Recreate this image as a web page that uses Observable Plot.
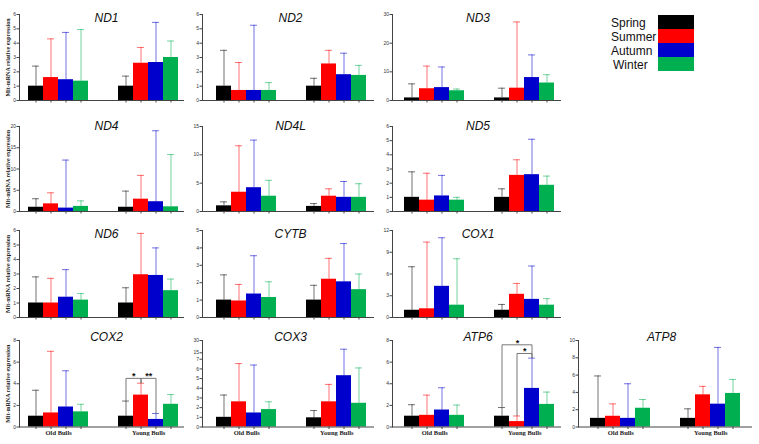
<!DOCTYPE html>
<html><head><meta charset="utf-8">
<script src="https://cdn.jsdelivr.net/npm/d3@7"></script>
<script src="https://cdn.jsdelivr.net/npm/@observablehq/plot@0.6"></script>
<style>
body{margin:0;background:#fff;}
#chart{position:relative;width:759px;height:444px;overflow:hidden;font-family:"Liberation Sans",Arial,sans-serif;}
#chart svg{position:absolute;}
.lg-label{position:absolute;font-size:12px;line-height:14px;color:#111;}
.lg-sw{position:absolute;width:36px;height:14px;}
</style></head><body><div id="chart"></div>
<script>
const seasons = ["Spring","Summer","Autumn","Winter"];
const seasonColors = ["#000000","#ff0000","#0000cc","#00b050"];
const groups = ["Old Bulls","Young Bulls"];
const yTitle = "Mit-mRNA relative expression";

// order: Old Bulls (Spring, Summer, Autumn, Winter), Young Bulls (Spring, Summer, Autumn, Winter)
const nd1Mean  = [1, 1.6, 1.45, 1.35, 1, 2.6, 2.65, 3.0];
const nd1Err   = [2.4, 4.3, 4.75, 4.95, 1.7, 3.7, 5.45, 4.15];
const nd1Ticks = [0,1,2,3,4,5,6];

const nd2Mean  = [1, 0.7, 0.7, 0.7, 1, 2.55, 1.8, 1.75];
const nd2Err   = [3.5, 2.65, 5.25, 1.25, 1.55, 3.5, 3.3, 2.45];
const nd2Ticks = [0,1,2,3,4,5,6];

const nd3Mean  = [0.9, 4.1, 4.5, 3.4, 0.9, 4.3, 8.0, 6.1];
const nd3Err   = [5.8, 12, 11.7, 4.0, 4.3, 27.4, 15.9, 9.0];
const nd3Ticks = [0,10,20,30];

const nd4Mean  = [1, 1.8, 0.8, 1.2, 1, 2.9, 2.3, 1.1];
const nd4Err   = [3.0, 4.4, 12.1, 2.5, 4.8, 8.5, 19, 13.4];
const nd4Ticks = [0,5,10,15,20];

const nd4lMean  = [1, 3.4, 4.2, 2.7, 0.9, 2.7, 2.5, 2.5];
const nd4lErr   = [1.7, 11.6, 12.6, 5.5, 1.4, 4.0, 5.3, 4.9];
const nd4lTicks = [0,5,10,15];

const nd5Mean  = [1, 0.8, 1.1, 0.8, 1, 2.55, 2.6, 1.85];
const nd5Err   = [2.8, 2.7, 2.55, 1.0, 1.6, 3.65, 5.1, 2.5];
const nd5Ticks = [0,1,2,3,4,5,6];

const nd6Mean  = [1, 1, 1.4, 1.2, 1, 2.95, 2.9, 1.85];
const nd6Err   = [2.8, 2.7, 3.3, 1.65, 2.05, 5.8, 4.8, 2.65];
const nd6Ticks = [0,1,2,3,4,5,6];

const cytbMean  = [1, 0.95, 1.35, 1.15, 1, 2.2, 2.05, 1.6];
const cytbErr   = [2.45, 1.9, 3.55, 2.05, 1.85, 3.4, 4.25, 2.5];
const cytbTicks = [0,1,2,3,4,5];

const cox1Mean  = [1, 1.2, 4.3, 1.7, 1, 3.2, 2.5, 1.7];
const cox1Err   = [7, 10.4, 11, 8.1, 1.8, 4.7, 7.1, 2.6];
const cox1Ticks = [0,3,6,9,12];

const cox2Mean  = [1, 1.3, 1.85, 1.4, 1, 2.95, 0.7, 2.1];
const cox2Err   = [3.4, 7.0, 5.2, 2.1, 2.4, 4.05, 1.25, 3.0];
const cox2Ticks = [0,2,4,6,8];
const cox2Sig = [
  {group: "Young Bulls", from: "Spring", to: "Summer", y: 4.5, label: "*"},
  {group: "Young Bulls", from: "Summer", to: "Autumn", y: 4.5, label: "**"}
];

const cox3Mean  = [1, 2.6, 1.45, 1.8, 0.95, 2.6, 5.3, 2.45];
const cox3Err   = [3.3, 6.55, 6.4, 2.6, 1.7, 4.4, 19.4, 6.1];
const cox3Ticks = [0,1,2,3,4,5,6,7,15,30];
// broken axis: below 7 full scale, compressed segments 7–15 and 15–30
const cox3Breaks = [0, 7, 15, 30];
const cox3BreakSpan = [0, 7, 7.662, 8.935];

const atp6Mean  = [1, 1.08, 1.57, 1.08, 1, 0.5, 3.57, 2.09];
const atp6Err   = [2.06, 2.95, 3.63, 2.03, 1.8, 1.02, 6.37, 3.23];
const atp6Ticks = [0,2,4,6,8];
const atp6Sig = [
  {group: "Young Bulls", from: "Spring", to: "Autumn", y: 7.6, label: "*"},
  {group: "Young Bulls", from: "Summer", to: "Autumn", y: 6.8, label: "*"}
];

const atp8Mean  = [1, 1.24, 1.0, 2.17, 1, 3.72, 2.64, 3.88];
const atp8Err   = [5.9, 2.67, 5.0, 3.18, 2.1, 4.7, 9.2, 5.5];
const atp8Ticks = [0,2,4,6,8,10];

// ---- layout (page pixels) ----
const colAxisX   = [19, 202, 392, 578];
const colBarStart= [26, 213, 401, 587];
const colBarEnd  = [179, 369, 557, 743];
const colFrameEnd= [184, 374, 561, 752];
const colTitleDx = [4.5, 2, 1, -4];
const rowTop     = [13.5, 126, 230, 340];
const rowBase    = [99.5, 211, 317, 426.5];
const rowTitleDy = [4, 0, 4, -3.5];

const panels = [
  {gene: "ND1",  mean: nd1Mean,  err: nd1Err,  ticks: nd1Ticks,  row: 0, col: 0},
  {gene: "ND2",  mean: nd2Mean,  err: nd2Err,  ticks: nd2Ticks,  row: 0, col: 1},
  {gene: "ND3",  mean: nd3Mean,  err: nd3Err,  ticks: nd3Ticks,  row: 0, col: 2},
  {gene: "ND4",  mean: nd4Mean,  err: nd4Err,  ticks: nd4Ticks,  row: 1, col: 0},
  {gene: "ND4L", mean: nd4lMean, err: nd4lErr, ticks: nd4lTicks, row: 1, col: 1},
  {gene: "ND5",  mean: nd5Mean,  err: nd5Err,  ticks: nd5Ticks,  row: 1, col: 2},
  {gene: "ND6",  mean: nd6Mean,  err: nd6Err,  ticks: nd6Ticks,  row: 2, col: 0},
  {gene: "CYTB", mean: cytbMean, err: cytbErr, ticks: cytbTicks, row: 2, col: 1},
  {gene: "COX1", mean: cox1Mean, err: cox1Err, ticks: cox1Ticks, row: 2, col: 2},
  {gene: "COX2", mean: cox2Mean, err: cox2Err, ticks: cox2Ticks, row: 3, col: 0, sig: cox2Sig},
  {gene: "COX3", mean: cox3Mean, err: cox3Err, ticks: cox3Ticks, row: 3, col: 1, breaks: cox3Breaks, span: cox3BreakSpan},
  {gene: "ATP6", mean: atp6Mean, err: atp6Err, ticks: atp6Ticks, row: 3, col: 2, sig: atp6Sig},
  {gene: "ATP8", mean: atp8Mean, err: atp8Err, ticks: atp8Ticks, row: 3, col: 3}
];

const chart = document.getElementById("chart");
const keyOf = (g, s) => g + "|" + s;
const slots = [...seasons.map(s => keyOf(groups[0], s)), "gap1", "gap2", ...seasons.map(s => keyOf(groups[1], s))];

function drawPanel(p) {
  const ML = 19, MR = 3, MT = 16, MB = p.row === 3 ? 13 : 6;
  const ax = colAxisX[p.col], fe = colFrameEnd[p.col];
  const top = rowTop[p.row], base = rowBase[p.row];
  const width = (fe - ax) + ML + MR;
  const height = (base - top) + MT + MB;
  // axis-break mapping (identity for ordinary panels)
  const tf = p.breaks ? d3.scaleLinear(p.breaks, p.span) : (v => v);
  const data = [];
  groups.forEach((g, gi) => seasons.forEach((s, si) => {
    const i = gi * 4 + si;
    data.push({group: g, season: s, key: keyOf(g, s), mean: tf(p.mean[i]), err: tf(p.err[i])});
  }));
  const bw = (colBarEnd[p.col] - colBarStart[p.col]) / slots.length;
  const yMax = tf(p.ticks[p.ticks.length - 1]);
  const tickPos = p.ticks.map(tf);
  const tickLabel = new Map(tickPos.map((t, i) => [t, p.ticks[i]]));
  const marks = [
    Plot.barY(data, {x: "key", y: "mean", fill: "season"}),
    Plot.ruleX(data, {x: "key", y1: "mean", y2: "err", stroke: "season", strokeOpacity: 0.55, strokeWidth: 1}),
    Plot.tickY(data, {x: "key", y: "err", stroke: "season", strokeOpacity: 0.55, strokeWidth: 1, inset: 4}),
    Plot.ruleY([0], {stroke: "#444", strokeWidth: 1}),
    Plot.frame({anchor: "left", stroke: "#444", strokeWidth: 1}),
    Plot.axisY({ticks: tickPos, tickFormat: t => String(tickLabel.get(t)), tickSize: 2.5, tickPadding: 1, fontSize: 5,
      label: null, stroke: "#444", fill: "#333"}),
    Plot.axisX({ticks: data.map(d => d.key), tickSize: 2.5, tickFormat: () => "", label: null, stroke: "#444"}),
    Plot.text([p.gene], {frameAnchor: "top", dx: colTitleDx[p.col], dy: rowTitleDy[p.row], lineAnchor: "middle",
      fontSize: 12, fontStyle: "italic", fontFamily: "Liberation Sans", fill: "#111"})
  ];
  if (p.col === 0) {
    marks.push(Plot.text([yTitle], {frameAnchor: "left", textAnchor: "middle", rotate: -90, dx: -11.5, fontSize: 6,
      fontWeight: "bold", fontFamily: "Liberation Serif", fill: "#222"}));
  }
  if (p.row === 3) {
    marks.push(Plot.text(groups, {x: g => keyOf(g, "Summer"), frameAnchor: "bottom", dx: bw / 2, dy: 6,
      lineAnchor: "middle", fontSize: 6.5, fontWeight: "bold", fontFamily: "Liberation Serif", fill: "#222"}));
  }
  if (p.sig) {
    const errOf = (g, s) => data.find(d => d.key === keyOf(g, s)).err;
    const segs = [];
    p.sig.forEach(s => {
      const a = keyOf(s.group, s.from), b = keyOf(s.group, s.to);
      segs.push({x1: a, y1: s.y, x2: b, y2: s.y});
      segs.push({x1: a, y1: s.y, x2: a, y2: errOf(s.group, s.from)});
      segs.push({x1: b, y1: s.y, x2: b, y2: errOf(s.group, s.to)});
    });
    marks.push(Plot.link(segs, {x1: "x1", y1: "y1", x2: "x2", y2: "y2", stroke: "#777", strokeWidth: 1}));
    p.sig.forEach(s => {
      const span = seasons.indexOf(s.to) - seasons.indexOf(s.from);
      marks.push(Plot.text([s], {x: d => keyOf(d.group, d.from), y: "y", text: "label", dx: span * bw / 2, dy: 1,
        lineAnchor: "bottom", fontSize: 9, fontWeight: "bold", fontFamily: "Liberation Sans", fill: "#111"}));
    });
  }
  const svg = Plot.plot({
    width, height, marginLeft: ML, marginRight: MR, marginTop: MT, marginBottom: MB,
    style: {background: "none", overflow: "visible", fontFamily: "Liberation Sans", color: "#333"},
    x: {type: "band", domain: slots, padding: 0, insetLeft: colBarStart[p.col] - ax, insetRight: fe - colBarEnd[p.col]},
    y: {domain: [0, yMax]},
    color: {domain: seasons, range: seasonColors},
    marks
  });
  svg.style.left = (ax - ML) + "px";
  svg.style.top = (top - MT) + "px";
  chart.appendChild(svg);
}
panels.forEach(drawPanel);

// legend
const lgLabelX = 611, lgSwX = 658, lgTop = 15, lgStep = 14;
seasons.forEach((s, i) => {
  const sw = document.createElement("div");
  sw.className = "lg-sw";
  sw.style.left = lgSwX + "px";
  sw.style.top = (lgTop + i * lgStep) + "px";
  sw.style.background = seasonColors[i];
  chart.appendChild(sw);
  const lb = document.createElement("div");
  lb.className = "lg-label";
  lb.textContent = s;
  lb.style.left = (lgLabelX + (s === "Winter" ? 2 : 0)) + "px";
  lb.style.top = (lgTop + i * lgStep + 1) + "px";
  chart.appendChild(lb);
});
</script></body></html>
